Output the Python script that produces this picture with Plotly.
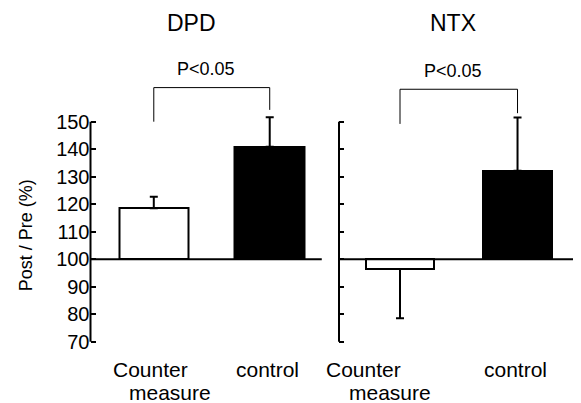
import plotly.graph_objects as go

# ---------------- data ----------------
categories = ["Counter measure", "control"]
dpd_values = [118.5, 140.9]      # Post / Pre (%)
dpd_err_up = [4.2, 10.7]
dpd_err_down = [0, 0]
ntx_values = [96.4, 132.2]
ntx_err_up = [0, 19.3]
ntx_err_down = [17.9, 0]
baseline = 100
y_tick_vals = [70, 80, 90, 100, 110, 120, 130, 140, 150]
panel_titles = ["DPD", "NTX"]
sig_label = "P<0.05"
bar_fill = ["white", "black"]

# ---------------- layout helpers ----------------
# page body has an 8px margin, so the figure starts at (8, 8) in the window
OFF = 8
W, H = 581 - OFF, 403 - OFF
FONT = "Liberation Sans, Arial, sans-serif"


def X(px):
    return (px - OFF) / W


def Y(py):
    return 1 - (py - OFF) / H


# y scale: 2.75 px per unit, value 100 at window pixel 259.2
PX_PER_UNIT = 2.75
Y100 = 259.2
y_range = [100 - (403 - Y100) / PX_PER_UNIT, 100 + (Y100 - OFF) / PX_PER_UNIT]

fig = go.Figure()

panels = [
    (dpd_values, dpd_err_up, dpd_err_down, "x", "y", 0.60),
    (ntx_values, ntx_err_up, ntx_err_down, "x2", "y2", 0.58),
]
for vals, eu, ed, xa, ya, bw in panels:
    fig.add_trace(go.Bar(
        x=categories,
        y=[v - baseline for v in vals],
        base=[baseline] * len(vals),
        width=[bw] * len(vals),
        marker=dict(color=bar_fill, line=dict(color="black", width=2)),
        error_y=dict(type="data", symmetric=False, array=eu, arrayminus=ed,
                     color="black", thickness=2, width=4),
        xaxis=xa, yaxis=ya, showlegend=False, hoverinfo="skip",
    ))

yaxis_common = dict(range=y_range, autorange=False, domain=[0, 1],
                    tickvals=y_tick_vals, ticks="inside", ticklen=5, tickwidth=2,
                    tickcolor="black", showgrid=False, zeroline=False, showline=False)
xaxis_common = dict(showticklabels=False, ticks="", showgrid=False, zeroline=False,
                    showline=False, type="category")

x1_range = [-0.546, 1.520]
x2_range = [-0.519, 1.540]

fig.update_layout(
    width=W, height=H,
    margin=dict(l=0, r=0, t=0, b=0),
    paper_bgcolor="white", plot_bgcolor="rgba(0,0,0,0)",
    font=dict(family=FONT, color="black"),
    xaxis=dict(domain=[X(90.5), X(330)], range=x1_range, anchor="y", **xaxis_common),
    yaxis=dict(anchor="x", showticklabels=True,
               tickfont=dict(size=20, family=FONT, color="black"), ticklabelstandoff=0,
               **yaxis_common),
    xaxis2=dict(domain=[X(339), 1], range=x2_range, anchor="y2", **xaxis_common),
    yaxis2=dict(anchor="x2", showticklabels=False, **yaxis_common),
    bargap=0,
)

shapes = []
# axis lines (70..150)
for xr, yr in [("x domain", "y"), ("x2 domain", "y2")]:
    shapes.append(dict(type="line", xref=xr, yref=yr, x0=0, x1=0,
                       y0=y_tick_vals[0], y1=y_tick_vals[-1],
                       line=dict(color="black", width=2)))
# baselines at 100
shapes.append(dict(type="line", xref="x", yref="y", x0=x1_range[0], x1=1.449,
                   y0=baseline, y1=baseline, line=dict(color="black", width=2)))
shapes.append(dict(type="line", xref="x2", yref="y2", x0=x2_range[0], x1=1.532,
                   y0=baseline, y1=baseline, line=dict(color="black", width=2)))
# significance brackets
brackets = [("x", "y", 162.4, 150.0, 154.3), ("x2", "y2", 161.8, 149.2, 153.1)]
for xr, yr, top, l_end, r_end in brackets:
    for x0, x1, y0, y1 in [(0, 0, l_end, top), (0, 1, top, top), (1, 1, top, r_end)]:
        shapes.append(dict(type="line", xref=xr, yref=yr, x0=x0, x1=x1, y0=y0, y1=y1,
                           line=dict(color="black", width=1)))
fig.update_layout(shapes=shapes)

ann = []


def text(t, px, py, size):
    ann.append(dict(text=t, x=X(px), y=Y(py), xref="paper", yref="paper",
                    xanchor="center", yanchor="middle", showarrow=False,
                    font=dict(size=size, family=FONT, color="black")))


text(panel_titles[0], 191.2, 23, 23)
text(panel_titles[1], 452.5, 23, 23)
text(sig_label, 206.3, 69, 18)
text(sig_label, 452.8, 71, 18)
text("Counter", 150, 369, 21)
text("measure", 170, 392, 21)
text("control", 267, 369, 21)
text("Counter", 363.3, 369, 21)
text("measure", 390, 392, 21)
text("control", 515, 369, 21)
ann.append(dict(text="Post / Pre (%)", x=X(25.5), y=Y(235.8), xref="paper", yref="paper",
                xanchor="center", yanchor="middle", showarrow=False, textangle=-90,
                font=dict(size=18, family=FONT, color="black")))
fig.update_layout(annotations=ann)

fig.write_html("out.html")
